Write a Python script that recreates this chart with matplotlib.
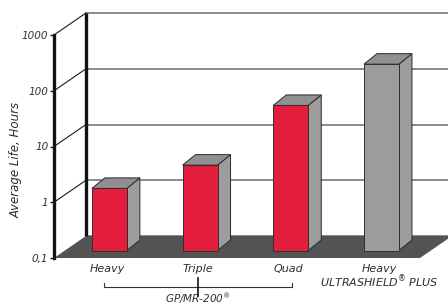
import matplotlib
matplotlib.use('Agg')
import matplotlib.pyplot as plt
from matplotlib.patches import Polygon
from matplotlib.lines import Line2D
from matplotlib.transforms import blended_transform_factory

# ---------------- data ----------------
categories = ['Heavy', 'Triple', 'Quad', 'Heavy\nULTRASHIELD$^{®}$ PLUS']
life_hours = [1.3, 3.4, 40, 220]
bar_colors = ['#e31d3c', '#e31d3c', '#e31d3c', '#9c9c9c']
tick_values = [0.1, 1, 10, 100, 1000]
tick_labels = ['0,1', '1', '10', '100', '1000']
group_label = 'GP/MR-200$^{®}$'
group_members = [0, 1, 2]
y_label = 'Average Life, Hours'

# ---------------- layout ----------------
W, H = 448, 308
fig = plt.figure(figsize=(W / 100, H / 100), dpi=100)
AX_L, AX_B, AX_T = 54, 50, 273
ax = fig.add_axes([AX_L / W, AX_B / H, (W - AX_L) / W, (AX_T - AX_B) / H])
ax.set_yscale('log')
ax.set_ylim(tick_values[0], tick_values[-1])
X0 = -0.5
ax.set_xlim(X0, X0 + (W - AX_L) / 90.7)
ax.patch.set_visible(False)

PPU = (W - AX_L) / (ax.get_xlim()[1] - ax.get_xlim()[0])
PPD = (AX_T - AX_B) / 4.0


def off(x, y, dx, dy):
    return (x + dx / PPU, y * 10 ** (dy / PPD))


WALL_DX, WALL_DY = 32, 22        # back wall depth offset (px)
BX, BY = 10, 7.5                 # bar front plane offset
DX, DY = 13, 10.5                # bar depth
BAR_W = 35 / PPU
XR = X0 + 366 / PPU              # floor front-right x
XMAX = X0 + 500 / PPU

ymin = tick_values[0]

# back grid lines + diagonals
for v in tick_values:
    p0 = (X0, v)
    p1 = off(X0, v, WALL_DX, WALL_DY)
    p2 = off(XMAX, v, WALL_DX, WALL_DY)
    ax.add_line(Line2D([p1[0], p2[0]], [p1[1], p2[1]], color='#8a8a8a',
                       lw=1.4, zorder=1, clip_on=False))
    if v != ymin:
        ax.add_line(Line2D([p0[0], p1[0]], [p0[1], p1[1]], color='#1a1a1a',
                           lw=0.8, zorder=1.7, clip_on=False))

# floor
floor = Polygon([(X0, ymin), (XR, ymin), off(XR, ymin, WALL_DX, WALL_DY),
                 off(X0, ymin, WALL_DX, WALL_DY)], closed=True,
                facecolor='#535353', edgecolor='none', zorder=1.5, clip_on=False)
ax.add_patch(floor)

# back wall line
b0 = off(X0, ymin, WALL_DX, WALL_DY)
b1 = off(X0, tick_values[-1], WALL_DX, WALL_DY)
ax.add_line(Line2D([b0[0], b1[0]], [b0[1], b1[1]], color='#111111', lw=2.4,
                   zorder=1.6, clip_on=False, solid_capstyle='butt'))

# bars
for i, (v, col) in enumerate(zip(life_hours, bar_colors)):
    l, r = i - BAR_W / 2, i + BAR_W / 2
    front = [off(l, ymin, BX, BY), off(r, ymin, BX, BY),
             off(r, v, BX, BY), off(l, v, BX, BY)]
    side = [off(r, ymin, BX, BY), off(r, ymin, BX + DX, BY + DY),
            off(r, v, BX + DX, BY + DY), off(r, v, BX, BY)]
    top = [off(l, v, BX, BY), off(r, v, BX, BY),
           off(r, v, BX + DX, BY + DY), off(l, v, BX + DX, BY + DY)]
    ax.add_patch(Polygon(side, closed=True, facecolor='#9d9d9d',
                         edgecolor='#2a2a2a', lw=0.7, zorder=3, clip_on=False))
    ax.add_patch(Polygon(top, closed=True, facecolor='#909090',
                         edgecolor='#2a2a2a', lw=0.7, zorder=3, clip_on=False))
    ax.add_patch(Polygon(front, closed=True, facecolor=col,
                         edgecolor='#3a2a2a', lw=0.7, zorder=3.1, clip_on=False))

# axis styling
for s in ['top', 'right', 'bottom']:
    ax.spines[s].set_visible(False)
ax.spines['left'].set_linewidth(2.4)
ax.spines['left'].set_color('#111111')
ax.set_xticks([])
ax.set_yticks(tick_values)
ax.set_yticklabels(tick_labels)
ax.yaxis.set_minor_locator(matplotlib.ticker.NullLocator())
ax.tick_params(axis='y', length=3, width=1, pad=1, color='#111111',
               labelsize=7.5, labelcolor='#333333')
for t in ax.get_yticklabels():
    t.set_style('italic')

TXT = dict(style='italic', color='#2e2e2e', fontsize=8)

# category labels
for i, lab in enumerate(categories):
    ax.annotate(lab, xy=(i, ymin), xytext=(8, -6), textcoords='offset pixels',
                ha='center', va='top', linespacing=1.0,
                annotation_clip=False, **TXT)

# group bracket
tr = blended_transform_factory(ax.transData, fig.dpi_scale_trans)
gl = group_members[0] + 5 / PPU
gr = group_members[-1] + 11 / PPU
gc = group_members[len(group_members) // 2] + 8 / PPU
ax.add_line(Line2D([gl, gl, gr, gr], [0.25, 0.21, 0.21, 0.25], transform=tr,
                   color='#333333', lw=0.8, clip_on=False))
ax.add_line(Line2D([gc, gc], [0.30, 0.12], transform=tr,
                   color='#111111', lw=1.2, clip_on=False))
ax.text(gc, 0.015, group_label, transform=tr, ha='center', va='bottom',
        style='italic', color='#2e2e2e', fontsize=7.5)

# y label
fig.text(16 / W, 148 / H, y_label, rotation=90, ha='center', va='center',
         style='italic', color='#2e2e2e', fontsize=8.5)

fig.savefig('out.png', dpi=100)
